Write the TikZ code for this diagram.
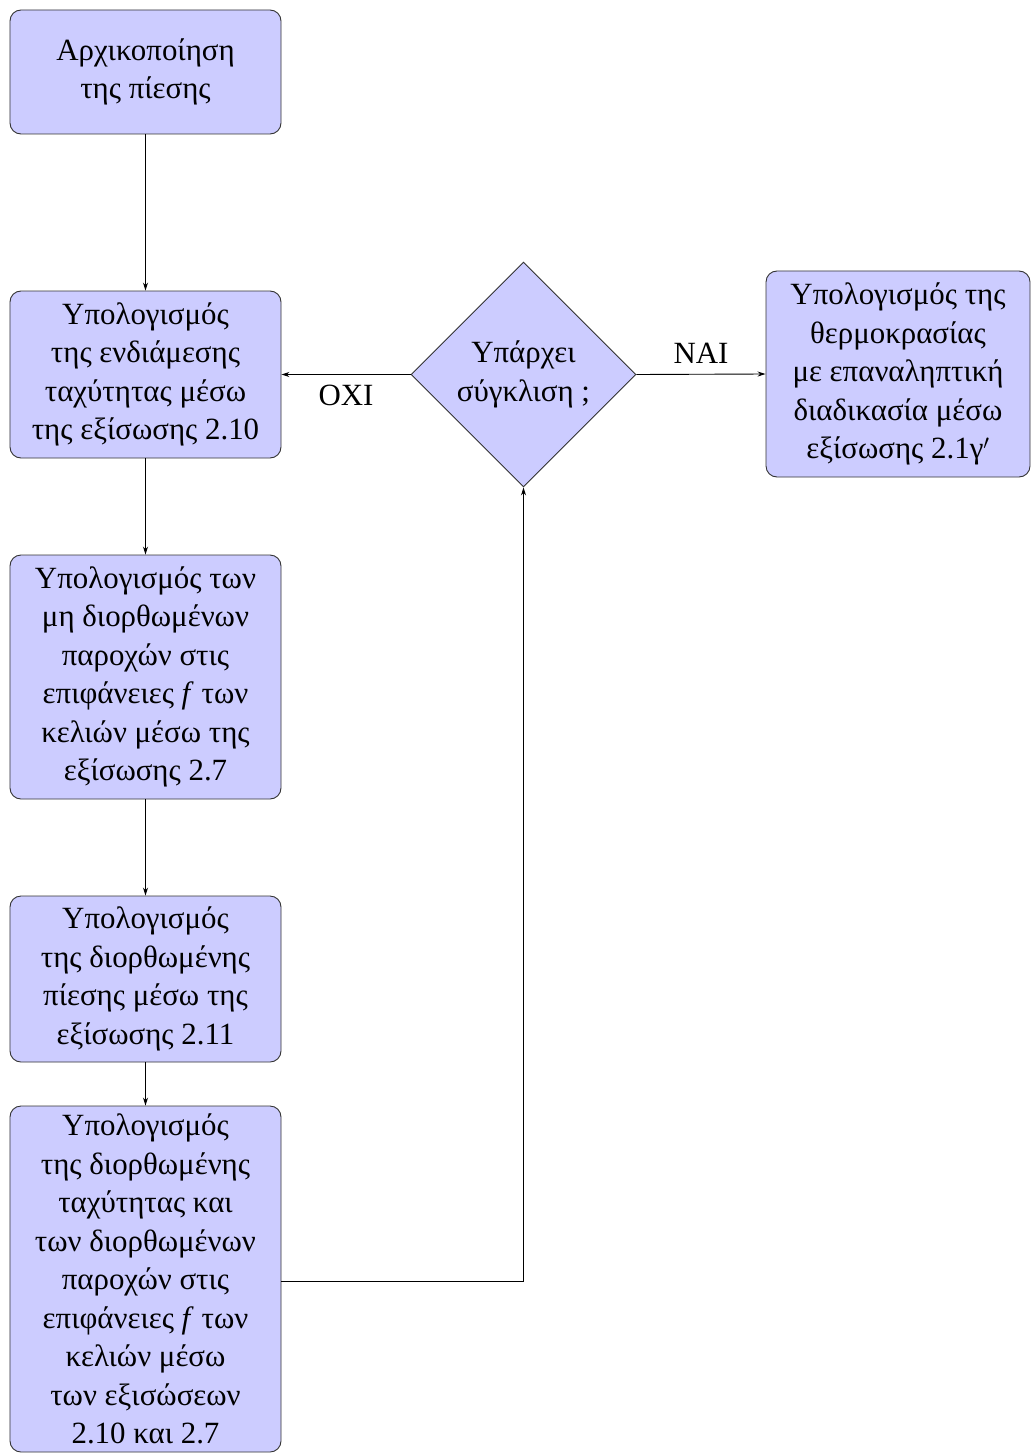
\documentclass[tikz,border=0pt]{standalone}
\usepackage{fontspec}
\setmainfont{Liberation Serif}
\usetikzlibrary{shapes.geometric,arrows.meta}
\begin{document}
\begin{tikzpicture}[x=1bp,y=-1bp,
  every node/.style={font=\fontsize{31}{38.6}\selectfont},
  box/.style={draw=black!80, fill=blue!20, rounded corners=11bp, line width=0.9bp,
    minimum width=271bp, align=center, inner sep=0pt},
  decision/.style={draw=black!80, fill=blue!20, diamond, aspect=1, line width=0.9bp,
    minimum size=225bp, inner sep=0pt, align=center},
  conn/.style={line width=0.9bp, -{Stealth[length=8bp,width=5bp]}},
  lbl/.style={inner sep=0pt}]
\useasboundingbox (0,0) rectangle (1030,1454);
\node[box, minimum height=124bp] (b1) at (145.5,72) {Αρχικοποίηση\\της πίεσης};
\node[box, minimum height=167bp] (b2) at (145.5,374.5) {Υπολογισμός\\της ενδιάμεσης\\ταχύτητας μέσω\\της εξίσωσης 2.10};
\node[box, minimum height=244bp] (b3) at (145.5,677) {Υπολογισμός των\\μη διορθωμένων\\παροχών στις\\επιφάνειες \textit{f} των\\κελιών μέσω της\\εξίσωσης 2.7};
\node[box, minimum height=166bp] (b4) at (145.5,979) {Υπολογισμός\\της διορθωμένης\\πίεσης μέσω της\\εξίσωσης 2.11};
\node[box, minimum height=346bp] (b5) at (145.5,1279) {Υπολογισμός\\της διορθωμένης\\ταχύτητας και\\των διορθωμένων\\παροχών στις\\επιφάνειες \textit{f} των\\κελιών μέσω\\των εξισώσεων\\2.10 και 2.7};
\node[decision] (d) at (523.5,374.5) {Υπάρχει\\σύγκλιση ;};
\node[box, minimum width=264bp, minimum height=206bp] (b6) at (898,374) {Υπολογισμός της\\θερμοκρασίας\\με επαναληπτική\\διαδικασία μέσω\\εξίσωσης 2.1γ$^\prime$};
\coordinate (c) at (523.5,1281);
\draw[conn] (b1) -- (b2);
\draw[conn] (b2) -- (b3);
\draw[conn] (b3) -- (b4);
\draw[conn] (b4) -- (b5);
\draw[conn] (b5.east |- c) -- (c) -- (d.south);
\draw[conn] (d.west) -- node[lbl, below=10bp] {ΟΧΙ} (b2.east);
\draw[conn] (d.east) -- node[lbl, above=10bp] {ΝΑΙ} (b6.west);
\end{tikzpicture}
\end{document}
